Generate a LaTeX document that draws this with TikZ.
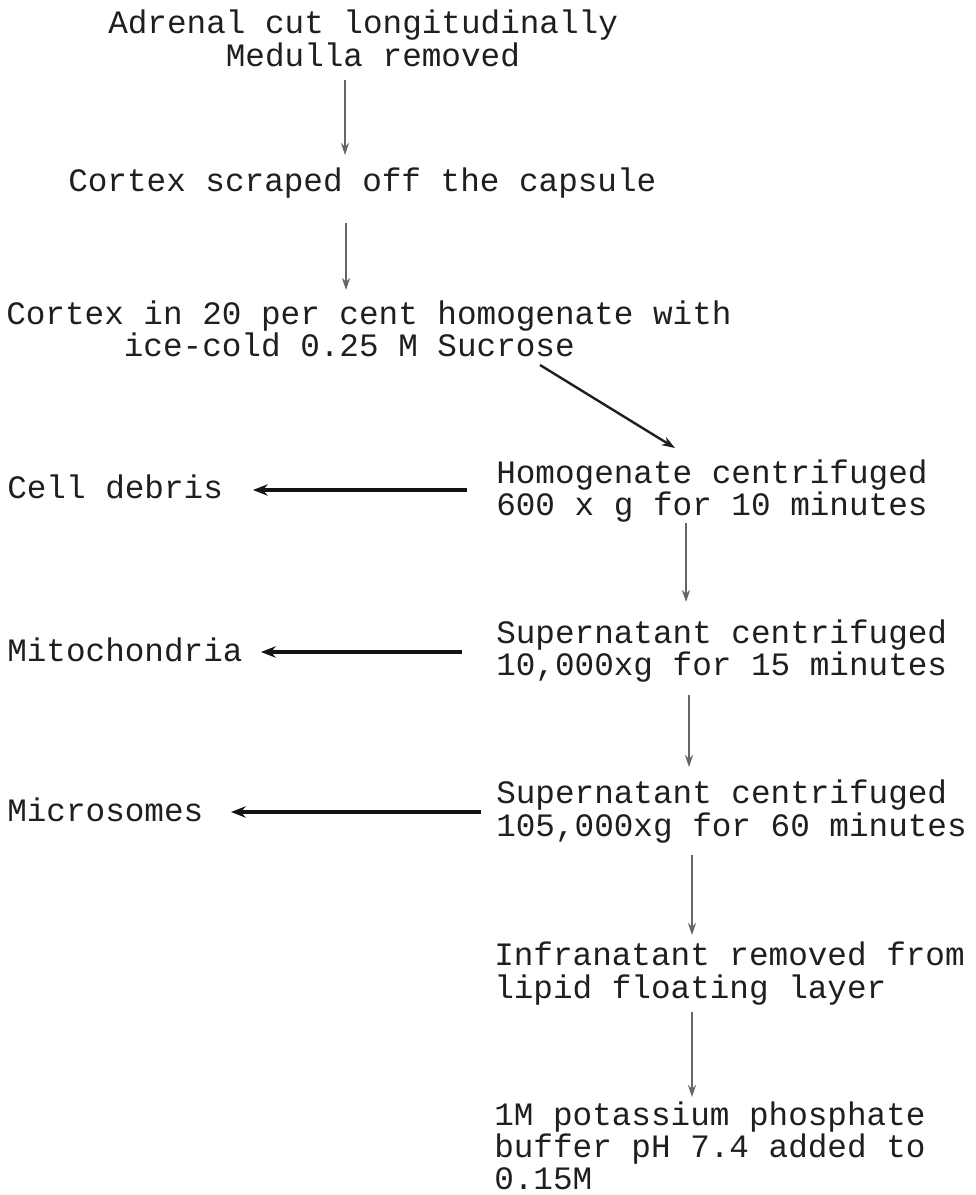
\documentclass[tikz,border=0pt]{standalone}
\usepackage{fontspec}
\setmainfont{Liberation Mono}
\usetikzlibrary{arrows.meta}
\begin{document}
\begin{tikzpicture}[x=0.75pt,y=-0.75pt,
  txt/.style={inner sep=0pt, font=\fontsize{24.5pt}{24.2pt}\selectfont, text=black!88, align=left, anchor=west},
  varrow/.style={draw=black!60, line width=1.1pt, -{Stealth[length=9pt,width=6pt]}},
  harrow/.style={draw=black!92, line width=2.6pt, -{Stealth[length=11pt,width=8.5pt]}},
  darrow/.style={draw=black!88, line width=1.8pt, -{Stealth[length=10pt,width=7pt]}}]
\useasboundingbox (0,0) rectangle (975,1195);
\fill[white] (0,0) rectangle (975,1195);

% steps
\node[txt] (adrenal) at (108,38.5) {Adrenal cut longitudinally\\\phantom{xxxxxx}Medulla removed};
\node[txt] (scraped) at (68,183) {Cortex scraped off the capsule};
\node[txt] (cortex) at (6,329) {Cortex in 20 per cent homogenate with\\\phantom{xxxxxx}ice-cold 0.25 M Sucrose};
\node[txt] (homog) at (496,491) {Homogenate centrifuged\\600 x g for 10 minutes};
\node[txt] (debris) at (7,487) {Cell debris};
\node[txt] (sup1) at (496,651) {Supernatant centrifuged\\10,000xg for 15 minutes};
\node[txt] (mito) at (7,650) {Mitochondria};
\node[txt] (sup2) at (496,811.5) {Supernatant centrifuged\\105,000xg for 60 minutes};
\node[txt] (micro) at (7,810) {Microsomes};
\node[txt] (infra) at (494,973.5) {Infranatant removed from\\lipid floating layer};
\node[txt] (buffer) at (494,1146) {1M potassium phosphate\\buffer pH 7.4 added to\\0.15M};

% connector end points
\coordinate (a1s) at (345,80);   \coordinate (a1e) at (345,155);
\coordinate (a2s) at (346,223);  \coordinate (a2e) at (346,290);
\coordinate (d1s) at (540,365);  \coordinate (d1e) at (675,448);
\coordinate (h1s) at (467,490);  \coordinate (h1e) at (253,490);
\coordinate (v1s) at (686,523);  \coordinate (v1e) at (686,602);
\coordinate (h2s) at (462,652);  \coordinate (h2e) at (261,652);
\coordinate (v2s) at (689,695);  \coordinate (v2e) at (689,767);
\coordinate (h3s) at (481,812);  \coordinate (h3e) at (231,812);
\coordinate (v3s) at (692,855);  \coordinate (v3e) at (692,935);
\coordinate (v4s) at (692,1012); \coordinate (v4e) at (692,1097);

\draw[varrow] (a1s) -- (a1e);
\draw[varrow] (a2s) -- (a2e);
\draw[darrow] (d1s) -- (d1e);
\draw[harrow] (h1s) -- (h1e);
\draw[varrow] (v1s) -- (v1e);
\draw[harrow] (h2s) -- (h2e);
\draw[varrow] (v2s) -- (v2e);
\draw[harrow] (h3s) -- (h3e);
\draw[varrow] (v3s) -- (v3e);
\draw[varrow] (v4s) -- (v4e);
\end{tikzpicture}
\end{document}
